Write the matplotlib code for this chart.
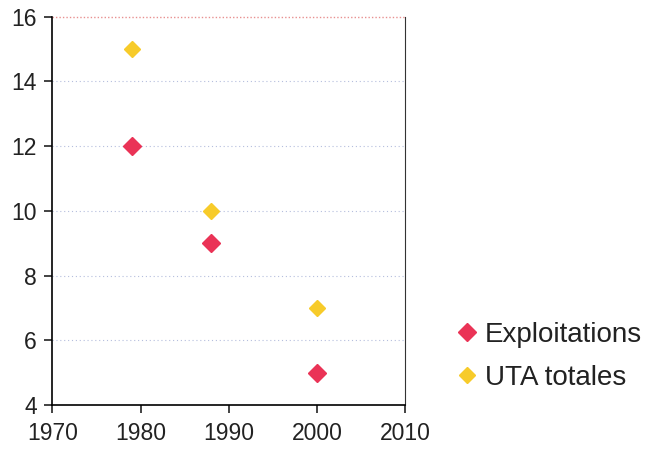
import matplotlib
matplotlib.use("Agg")
from matplotlib import pyplot as plt

years = [1979, 1988, 2000]
exploitations = [12, 9, 5]
uta_totales = [15, 10, 7]

plt.rcParams['font.family'] = ['Liberation Sans', 'DejaVu Sans']

fig = plt.figure(figsize=(6.46, 4.53), dpi=100)
ax = fig.add_axes([0.081, 0.106, 0.546, 0.857])

ax.plot(years, exploitations, linestyle='none', marker='D', markersize=9.5,
        color='#ea3356', label='Exploitations', zorder=3)
ax.plot(years, uta_totales, linestyle='none', marker='D', markersize=8,
        color='#f7cb2a', label='UTA totales', zorder=3)

ax.set_xlim(1970, 2010)
ax.set_ylim(4, 16)
ax.set_xticks(range(1970, 2011, 10))
ax.set_yticks(range(4, 17, 2))

# faint dotted horizontal gridlines, the top one reddish
for y in range(6, 16, 2):
    ax.axhline(y, color='#b5bedd', linestyle=(0, (1, 2.5)), linewidth=0.8, zorder=1)
ax.axhline(16, color='#e89090', linestyle=(0, (1, 1.5)), linewidth=1.0, zorder=1,
           clip_on=False)

ax.spines['top'].set_visible(False)
ax.spines['right'].set_color('#333333')
ax.spines['right'].set_linewidth(0.8)
ax.spines['left'].set_linewidth(1.2)
ax.spines['bottom'].set_linewidth(1.2)
ax.tick_params(axis='both', direction='out', length=6, width=1.2,
               labelsize=16.5, colors='#222222')
ax.tick_params(axis='y', pad=5)
ax.tick_params(axis='x', pad=6)

fig.legend(loc='center left', bbox_to_anchor=(0.69, 0.213), frameon=False,
           fontsize=20, handlelength=0.7, handletextpad=0.3,
           labelspacing=0.62, borderaxespad=0, labelcolor='#222222')

fig.savefig('out.png', dpi=100)
